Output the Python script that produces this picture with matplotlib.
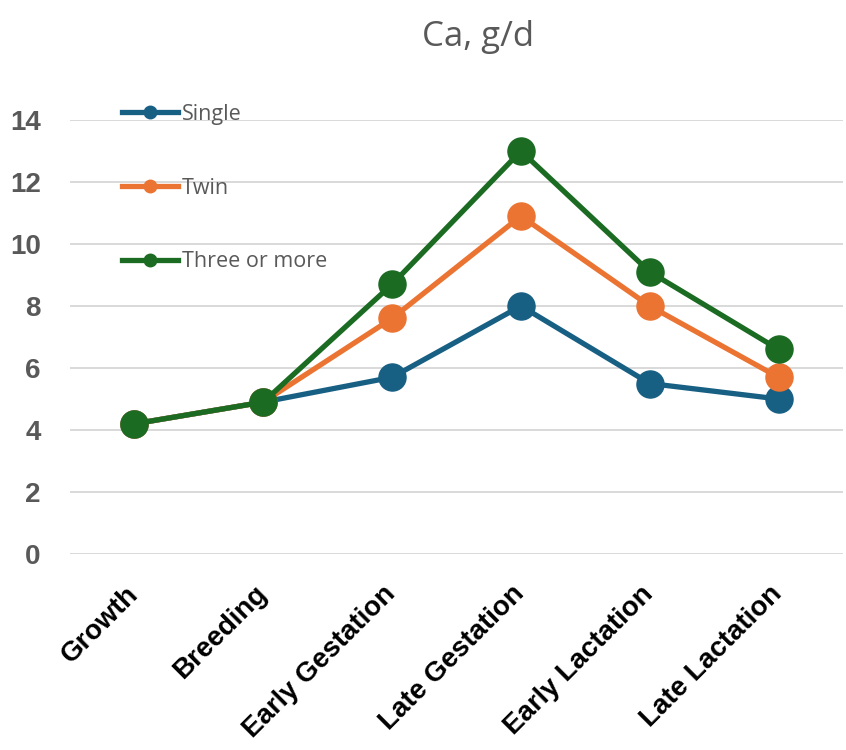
import matplotlib
matplotlib.use("Agg")
import matplotlib.pyplot as plt
from matplotlib.lines import Line2D

# Daily calcium requirement by production stage
stages = ["Growth", "Breeding", "Early Gestation", "Late Gestation",
          "Early Lactation", "Late Lactation"]
single = [4.2, 4.9, 5.7, 8.0, 5.5, 5.0]
twin = [4.2, 4.9, 7.6, 10.9, 8.0, 5.7]
three_or_more = [4.2, 4.9, 8.7, 13.0, 9.1, 6.6]
series_names = ["Single", "Twin", "Three or more"]
series_colors = ["#185F84", "#EB7432", "#1B6B23"]
y_ticks = [0, 2, 4, 6, 8, 10, 12, 14]
title = "Ca, g/d"

fig = plt.figure(figsize=(8.46, 7.5), dpi=100)
ax = fig.add_axes([70 / 846, (750 - 554) / 750, (843 - 70) / 846, (554 - 120) / 750])

x = list(range(len(stages)))
handles = []
for vals, name, col in zip([single, twin, three_or_more], series_names, series_colors):
    ax.plot(x, vals, color=col, lw=3.8, marker="o", markersize=19.5,
            clip_on=False, zorder=3, solid_capstyle="round")
    handles.append(Line2D([], [], color=col, lw=3.8, marker="o", markersize=9))

ax.set_xlim(-0.5, len(stages) - 0.5)
ax.set_ylim(0, 14)
ax.set_yticks(y_ticks)
ax.set_yticklabels([str(v) for v in y_ticks], fontsize=20, fontweight="bold",
                   color="#595959", family="Liberation Sans")
ax.set_xticks(x)
ax.set_xticklabels(stages, rotation=45, ha="right", va="center",
                   rotation_mode="anchor", fontsize=20, fontweight="bold",
                   color="#000000", family="Liberation Sans")
ax.tick_params(axis="y", length=0, pad=21)
ax.tick_params(axis="x", length=0, pad=26)
ax.grid(axis="y", color="#D9D9D9", lw=1.4)
ax.set_axisbelow(True)
for s in ax.spines.values():
    s.set_visible(False)

leg = ax.legend(handles, series_names, loc="upper left",
                bbox_to_anchor=(122 / 846, 1 - 104 / 750), bbox_transform=fig.transFigure,
                frameon=False, handlelength=2.6, handletextpad=0.17,
                labelspacing=2.44, borderpad=0, borderaxespad=0,
                prop={"family": "Open Sans", "size": 15.5})
for t in leg.get_texts():
    t.set_color("#595959")

fig.text(478 / 846, 1 - 37 / 750, title, ha="center", va="center",
         fontsize=25, color="#595959", family="Open Sans")

fig.savefig("out.png", dpi=100)
